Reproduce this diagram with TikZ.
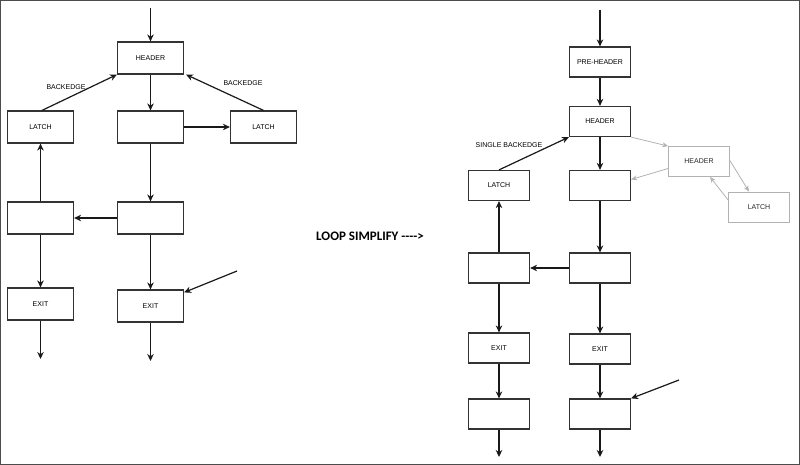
\documentclass[tikz,border=0pt]{standalone}
\usepackage{fontspec}
\setmainfont{Liberation Sans}
\newfontfamily\titlefont{Carlito}
\usetikzlibrary{arrows.meta}
\begin{document}
\begin{tikzpicture}[x=1pt,y=-1pt,
  blk/.style={draw=black!80,line width=1.2pt,rectangle,inner sep=0pt,minimum width=66pt,minimum height=32pt,font=\fontsize{7}{8}\selectfont},
  rblk/.style={blk,minimum width=61pt,minimum height=30pt},
  gblk/.style={rblk,draw=black!30,line width=0.8pt,text=black!85},
  arr/.style={draw=black!90,line width=1.2pt,-{Stealth[length=7pt,width=6.5pt]}},
  garr/.style={draw=black!30,line width=0.8pt,-{Stealth[length=6pt,width=5pt]}},
  lbl/.style={font=\fontsize{7}{8}\selectfont,inner sep=0pt}]
\useasboundingbox (0,0) rectangle (800,465);
\draw[black!70,line width=1pt] (0.5,0.5) rectangle (799.5,464.5);

% ---------- left diagram ----------
\node[blk] (h) at (150.5,58) {HEADER};
\node[blk] (ll) at (40.5,127) {LATCH};
\node[blk] (m1) at (150.5,127) {};
\node[blk] (rl) at (263.5,127) {LATCH};
\node[blk] (l2) at (40.5,218) {};
\node[blk] (r2) at (150.5,218) {};
\node[blk] (le) at (40.5,304) {EXIT};
\node[blk] (re) at (150.5,306) {EXIT};
\coordinate (in1) at (150.5,8);
\coordinate (in2) at (237,271);
\coordinate (o1) at (40.5,359);
\coordinate (o2) at (150.5,361);
\node[lbl] (b1) at (66,87) {BACKEDGE};
\node[lbl] (b2) at (243,83) {BACKEDGE};

\draw[arr] (in1) -- (h.north);
\draw[arr] (h.south) -- (m1.north);
\draw[arr] ([xshift=1.5pt]ll.north) -- (h.south west);
\draw[arr] (rl.north) -- ([xshift=2pt]h.south east);
\draw[arr] (m1.east) -- (rl.west);
\draw[arr] (l2.north) -- (ll.south);
\draw[arr] (m1.south) -- (r2.north);
\draw[arr] (r2.west) -- (l2.east);
\draw[arr] (l2.south) -- (le.north);
\draw[arr] (r2.south) -- (re.north);
\draw[arr] (in2) -- ([yshift=-3pt]re.north east);
\draw[arr] (le.south) -- (o1);
\draw[arr] (re.south) -- (o2);

% ---------- title ----------
\node[font=\titlefont\bfseries\fontsize{13}{15}\selectfont,inner sep=0pt] (t) at (370,236) {LOOP SIMPLIFY ---->};

% ---------- right diagram ----------
\node[rblk] (ph) at (600,62) {PRE-HEADER};
\node[rblk] (H) at (600,121.5) {HEADER};
\node[rblk] (L) at (499,185.5) {LATCH};
\node[rblk] (M) at (600,185.5) {};
\node[gblk] (gH) at (699,161.5) {HEADER};
\node[gblk] (gL) at (759,207) {LATCH};
\node[rblk] (L2) at (499,268) {};
\node[rblk] (R2) at (600,268) {};
\node[rblk] (LE) at (499,348) {EXIT};
\node[rblk] (RE) at (600,349) {EXIT};
\node[rblk] (L3) at (499,414) {};
\node[rblk] (R3) at (600,414) {};
\coordinate (in3) at (600,10);
\coordinate (in4) at (679,380);
\coordinate (o3) at (499,457);
\coordinate (o4) at (600,457);
\node[lbl] (sb) at (509,145) {SINGLE BACKEDGE};

\draw[arr] (in3) -- (ph.north);
\draw[arr] (ph.south) -- (H.north);
\draw[arr] (H.south) -- (M.north);
\draw[arr] (L.north) -- (H.south west);
\draw[garr] (H.south east) -- (gH.north west);
\draw[garr] ([yshift=-7pt]gH.west) -- ([yshift=6pt]M.east);
\draw[garr] ([yshift=1pt]gH.east) -- ([xshift=-10pt]gL.north);
\draw[garr] ([yshift=7pt]gL.west) -- ([xshift=11pt]gH.south);
\draw[arr] (M.south) -- (R2.north);
\draw[arr] (R2.west) -- (L2.east);
\draw[arr] (L2.north) -- (L.south);
\draw[arr] (L2.south) -- (LE.north);
\draw[arr] (R2.south) -- (RE.north);
\draw[arr] (LE.south) -- (L3.north);
\draw[arr] (RE.south) -- (R3.north);
\draw[arr] (in4) -- (R3.north east);
\draw[arr] (L3.south) -- (o3);
\draw[arr] (R3.south) -- (o4);
\end{tikzpicture}
\end{document}
